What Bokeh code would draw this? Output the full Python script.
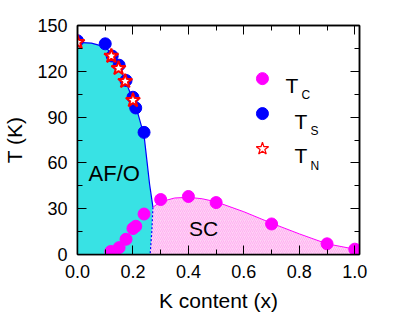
from bokeh.plotting import figure
from bokeh.models import LinearAxis, Label, Range1d, SingleIntervalTicker, CustomJSTickFormatter, NumeralTickFormatter
from bokeh.embed import file_html
from bokeh.resources import INLINE

# ---- data ----
tc_x = [0.12, 0.15, 0.175, 0.20, 0.21, 0.24, 0.30, 0.40, 0.50, 0.70, 0.90, 1.00]
tc_T = [2.0, 4.5, 10.0, 17.0, 18.5, 26.5, 36.0, 38.0, 34.0, 20.0, 7.0, 3.5]

ts_x = [0.0, 0.10, 0.125, 0.15, 0.175, 0.20, 0.21, 0.24]
ts_T = [140.0, 138.0, 130.0, 124.0, 114.0, 103.0, 96.0, 80.0]

tn_x = [0.0, 0.122, 0.148, 0.172, 0.20]
tn_T = [139.0, 130.0, 122.0, 113.5, 101.0]

# AF/O phase boundary (solid part and dotted part inside the dome)
af_x = [0.0, 0.05, 0.10, 0.125, 0.15, 0.175, 0.20, 0.22, 0.24, 0.25, 0.26, 0.272]
af_T = [139.0, 138.5, 136.0, 131.0, 123.0, 113.0, 101.0, 91.0, 78.0, 62.0, 46.0, 31.0]
af_dot_x = [0.272, 0.268, 0.262]
af_dot_T = [31.0, 15.0, 0.0]

# SC dome line
sc_x = [0.272, 0.30, 0.35, 0.40, 0.45, 0.50, 0.60, 0.70, 0.80, 0.90, 1.00, 1.02]
sc_T = [31.0, 34.5, 37.0, 37.5, 36.5, 34.5, 28.0, 20.5, 13.5, 7.0, 3.5, 3.0]

x_tick_step = 0.2
y_tick_step = 30

FONT = "Liberation Sans"

p = figure(width=407, height=316, output_backend="svg", toolbar_location=None,
           x_range=Range1d(0, 1.017), y_range=Range1d(0, 150),
           min_border_left=76, min_border_right=48, min_border_top=25, min_border_bottom=62,
           background_fill_color="white", border_fill_color="white")
p.grid.visible = False
p.outline_line_color = "black"
p.outline_line_width = 1.5

p.xaxis.ticker = SingleIntervalTicker(interval=x_tick_step, num_minor_ticks=2)
p.yaxis.ticker = SingleIntervalTicker(interval=y_tick_step, num_minor_ticks=2)
p.xaxis.formatter = NumeralTickFormatter(format="0.0")
p.yaxis.formatter = NumeralTickFormatter(format="0")

for ax in (p.xaxis[0], p.yaxis[0]):
    ax.major_tick_in = 9
    ax.major_tick_out = 0
    ax.minor_tick_in = 5
    ax.minor_tick_out = 0
    ax.axis_line_width = 1.5
    ax.major_label_text_font = FONT
    ax.major_label_text_font_size = "18px"
    ax.major_label_text_color = "black"
    ax.axis_label_text_font = FONT
    ax.axis_label_text_font_size = "21px"
    ax.axis_label_text_font_style = "normal"
    ax.axis_label_text_color = "black"
    ax.major_label_standoff = 10

p.xaxis.axis_label = "K content (x)"
p.yaxis.axis_label = "T (K)"
p.xaxis.axis_label_standoff = 8
p.yaxis.axis_label_standoff = 8

for loc, step in (("above", x_tick_step), ("right", y_tick_step)):
    ax = LinearAxis(ticker=SingleIntervalTicker(interval=step, num_minor_ticks=2),
                    formatter=CustomJSTickFormatter(code="return ''"))
    ax.major_tick_in = 9
    ax.major_tick_out = 0
    ax.minor_tick_in = 5
    ax.minor_tick_out = 0
    ax.major_label_standoff = 0
    ax.axis_line_width = 1.5
    p.add_layout(ax, loc)

# ---- filled regions ----
cyan_x = af_x + af_dot_x[1:] + [0.0]
cyan_T = af_T + af_dot_T[1:] + [0.0]
p.patch(cyan_x, cyan_T, fill_color="#38e2e4", line_color=None)

pink_x = af_dot_x[::-1] + sc_x[1:] + [sc_x[-1]]
pink_T = af_dot_T[::-1] + sc_T[1:] + [0.0]
p.patch(pink_x, pink_T, fill_color="#ffd2f6", line_color=None,
        hatch_pattern="/", hatch_color="#ff9cec", hatch_alpha=0.6, hatch_scale=4, hatch_weight=1)

# ---- boundary lines ----
p.line(af_x, af_T, line_color="#0000ff", line_width=1.2)
p.line(af_dot_x, af_dot_T, line_color="#0000ff", line_width=1.2, line_dash="2 2")
p.line(sc_x, sc_T, line_color="#ff00ff", line_width=1.0)

# ---- data points ----
p.scatter(ts_x, ts_T, marker="circle", size=12, fill_color="#0000ff", line_color="#0000ff")
p.scatter(tn_x, tn_T, marker="star", size=15, fill_color="white", line_color="#ff0000", line_width=2)
p.scatter(tc_x, tc_T, marker="circle", size=12, fill_color="#ff00ff", line_color="#ff00ff")

# ---- legend (manual) ----
p.scatter([0.667], [115.2], marker="circle", size=12, fill_color="#ff00ff", line_color="#ff00ff")
p.scatter([0.667], [92.3], marker="circle", size=12, fill_color="#0000ff", line_color="#0000ff")
p.scatter([0.667], [69.3], marker="star", size=13, fill_color="white", line_color="#ff0000", line_width=1.2)

def lab(x, y, t, size):
    p.add_layout(Label(x=x, y=y, text=t, text_font=FONT, text_font_size=size,
                       text_color="black", text_baseline="alphabetic", text_align="left"))

lab(0.750, 110.6, "T", "21px")
lab(0.808, 104.4, "C", "12px")
lab(0.783, 87.4, "T", "21px")
lab(0.840, 81.1, "S", "12px")
lab(0.783, 65.1, "T", "21px")
lab(0.840, 58.2, "N", "12px")

p.add_layout(Label(x=0.04, y=53, text="AF/O", text_font=FONT, text_font_size="22px",
                   text_color="black", text_baseline="middle"))
p.add_layout(Label(x=0.402, y=17, text="SC", text_font=FONT, text_font_size="21px",
                   text_color="black", text_baseline="middle"))

open("out.html", "w").write(file_html(p, INLINE))
